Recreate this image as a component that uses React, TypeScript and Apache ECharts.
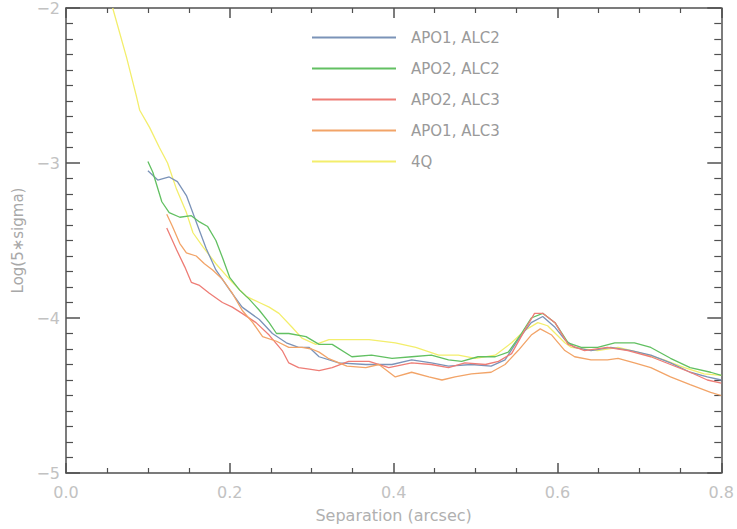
import React, { useEffect, useRef } from "react";
import * as echarts from "echarts";

const seriesNames = ["APO1, ALC2", "APO2, ALC2", "APO2, ALC3", "APO1, ALC3", "4Q"];
const seriesColors = ["#7b93b8", "#62c062", "#ee7d76", "#f2a468", "#f3ee6c"];

const xTicks = [0.0, 0.2, 0.4, 0.6, 0.8];
const yTicks = [-5, -4, -3, -2];

const apo1Alc2 = [
  [0.1, -3.05], [0.112, -3.11], [0.126, -3.09], [0.136, -3.12], [0.147, -3.21], [0.159, -3.38],
  [0.171, -3.55], [0.183, -3.69], [0.2, -3.82], [0.215, -3.93], [0.236, -4.01], [0.252, -4.1],
  [0.269, -4.16], [0.284, -4.19], [0.297, -4.19], [0.309, -4.25], [0.333, -4.29], [0.366, -4.3],
  [0.398, -4.3], [0.422, -4.27], [0.446, -4.29], [0.467, -4.31], [0.495, -4.3], [0.519, -4.31],
  [0.536, -4.27], [0.552, -4.14], [0.568, -4.03], [0.582, -3.99], [0.597, -4.06], [0.609, -4.14],
  [0.621, -4.19], [0.641, -4.21], [0.665, -4.19], [0.69, -4.21], [0.714, -4.24], [0.738, -4.29],
  [0.762, -4.35], [0.783, -4.38], [0.8, -4.4],
];

const apo2Alc2 = [
  [0.1, -2.99], [0.106, -3.06], [0.117, -3.25], [0.126, -3.32], [0.139, -3.35], [0.153, -3.34],
  [0.163, -3.38], [0.173, -3.41], [0.183, -3.5], [0.191, -3.61], [0.2, -3.74], [0.212, -3.82],
  [0.224, -3.88], [0.236, -3.95], [0.248, -4.03], [0.257, -4.1], [0.272, -4.1], [0.293, -4.12],
  [0.309, -4.17], [0.325, -4.17], [0.349, -4.25], [0.373, -4.24], [0.398, -4.26], [0.422, -4.25],
  [0.446, -4.24], [0.467, -4.27], [0.483, -4.28], [0.503, -4.25], [0.524, -4.25], [0.54, -4.22],
  [0.556, -4.1], [0.568, -4.0], [0.582, -3.97], [0.597, -4.03], [0.613, -4.16], [0.629, -4.19],
  [0.649, -4.19], [0.67, -4.16], [0.694, -4.16], [0.714, -4.19], [0.738, -4.26], [0.762, -4.32],
  [0.787, -4.35], [0.8, -4.37],
];

const apo2Alc3 = [
  [0.123, -3.42], [0.135, -3.56], [0.145, -3.67], [0.153, -3.77], [0.163, -3.79], [0.175, -3.84],
  [0.191, -3.9], [0.203, -3.93], [0.215, -3.97], [0.232, -4.03], [0.248, -4.11], [0.264, -4.21],
  [0.272, -4.29], [0.284, -4.32], [0.297, -4.33], [0.309, -4.34], [0.325, -4.32], [0.345, -4.28],
  [0.37, -4.28], [0.394, -4.32], [0.422, -4.29], [0.446, -4.3], [0.467, -4.32], [0.487, -4.29],
  [0.512, -4.3], [0.528, -4.28], [0.544, -4.23], [0.56, -4.08], [0.572, -3.97], [0.582, -3.97],
  [0.597, -4.03], [0.613, -4.17], [0.633, -4.21], [0.661, -4.19], [0.686, -4.21], [0.714, -4.25],
  [0.738, -4.3], [0.762, -4.35], [0.783, -4.4], [0.8, -4.42],
];

const apo1Alc3 = [
  [0.123, -3.33], [0.13, -3.41], [0.139, -3.52], [0.147, -3.58], [0.159, -3.6], [0.169, -3.65],
  [0.179, -3.69], [0.191, -3.75], [0.203, -3.84], [0.215, -3.95], [0.228, -4.03], [0.24, -4.12],
  [0.257, -4.15], [0.272, -4.19], [0.288, -4.19], [0.3, -4.2], [0.309, -4.22], [0.32, -4.26],
  [0.343, -4.31], [0.366, -4.32], [0.382, -4.3], [0.402, -4.38], [0.422, -4.35], [0.443, -4.38],
  [0.459, -4.4], [0.475, -4.38], [0.495, -4.36], [0.519, -4.35], [0.536, -4.3], [0.552, -4.21],
  [0.568, -4.11], [0.579, -4.07], [0.593, -4.11], [0.609, -4.21], [0.621, -4.25], [0.641, -4.27],
  [0.661, -4.27], [0.674, -4.26], [0.694, -4.29], [0.714, -4.32], [0.738, -4.38], [0.762, -4.43],
  [0.787, -4.48], [0.8, -4.5],
];

const fourQ = [
  [0.057, -2.0], [0.074, -2.32], [0.086, -2.57], [0.09, -2.66], [0.102, -2.77], [0.114, -2.9],
  [0.124, -3.0], [0.135, -3.17], [0.147, -3.32], [0.155, -3.45], [0.167, -3.54], [0.183, -3.65],
  [0.203, -3.77], [0.22, -3.86], [0.236, -3.9], [0.248, -3.93], [0.26, -3.97], [0.276, -4.06],
  [0.288, -4.13], [0.305, -4.17], [0.321, -4.14], [0.357, -4.14], [0.37, -4.14], [0.402, -4.16],
  [0.427, -4.19], [0.455, -4.24], [0.479, -4.24], [0.5, -4.26], [0.524, -4.24], [0.544, -4.16],
  [0.56, -4.08], [0.576, -4.03], [0.588, -4.05], [0.609, -4.16], [0.617, -4.19], [0.649, -4.21],
  [0.674, -4.19], [0.698, -4.22], [0.73, -4.27], [0.755, -4.32], [0.779, -4.36], [0.8, -4.37],
];

const seriesData = [apo1Alc2, apo2Alc2, apo2Alc3, apo1Alc3, fourQ];

const FONT = "DejaVu Sans";
const AXIS_COLOR = "#505050";
const LABEL_COLOR = "#c2c2c2";

function makeXAxis(position: "bottom" | "top", showLabels: boolean) {
  return {
    type: "value",
    position,
    min: xTicks[0],
    max: xTicks[xTicks.length - 1],
    interval: 0.2,
    name: showLabels ? "Separation (arcsec)" : "",
    nameLocation: "middle",
    nameGap: 34,
    nameTextStyle: { color: "#b0b0b0", fontSize: 16, fontFamily: FONT },
    axisLine: { show: true, onZero: false, lineStyle: { color: AXIS_COLOR, width: 1.5 } },
    axisTick: { show: true, inside: true, length: 10, lineStyle: { color: AXIS_COLOR, width: 1.5 } },
    minorTick: { show: true, splitNumber: 4, length: 5, lineStyle: { color: AXIS_COLOR, width: 1.2 } },
    splitLine: { show: false },
    minorSplitLine: { show: false },
    axisLabel: {
      show: showLabels,
      color: LABEL_COLOR,
      fontSize: 16,
      fontFamily: FONT,
      margin: 11,
      formatter: (v: number) => v.toFixed(1),
    },
  };
}

function makeYAxis(position: "left" | "right", showLabels: boolean) {
  return {
    type: "value",
    position,
    min: yTicks[0],
    max: yTicks[yTicks.length - 1],
    interval: 1,
    name: showLabels ? "Log(5\u2217sigma)" : "",
    nameLocation: "middle",
    nameGap: 38,
    nameRotate: 90,
    nameTextStyle: { color: "#a8a8a8", fontSize: 15, fontFamily: FONT },
    axisLine: { show: true, onZero: false, lineStyle: { color: AXIS_COLOR, width: 1.5 } },
    axisTick: { show: true, inside: true, length: 14, lineStyle: { color: AXIS_COLOR, width: 1.5 } },
    minorTick: { show: true, splitNumber: 10, length: 7, lineStyle: { color: AXIS_COLOR, width: 1.2 } },
    splitLine: { show: false },
    minorSplitLine: { show: false },
    axisLabel: {
      show: showLabels,
      color: LABEL_COLOR,
      fontSize: 16,
      fontFamily: FONT,
      margin: 6,
      formatter: (v: number) => String(v).replace("-", "\u2212"),
    },
  };
}

export default function App() {
  const ref = useRef<HTMLDivElement>(null);

  useEffect(() => {
    if (!ref.current) return;
    const chart = echarts.init(ref.current, undefined, { renderer: "svg" });
    chart.setOption({
      animation: false,
      backgroundColor: "#ffffff",
      grid: { left: 66, right: 13, top: 7, bottom: 56, containLabel: false },
      xAxis: [makeXAxis("bottom", true), makeXAxis("top", false)],
      yAxis: [makeYAxis("left", true), makeYAxis("right", false)],
      legend: {
        show: true,
        orient: "vertical",
        left: 312,
        top: 29,
        padding: 0,
        icon: "rect",
        itemWidth: 84,
        itemHeight: 2,
        itemGap: 14,
        data: seriesNames,
        selectedMode: false,
        textStyle: {
          color: "#9a9a9a",
          fontSize: 15,
          fontFamily: FONT,
          lineHeight: 17,
          padding: [0, 0, 0, 10],
        },
      },
      series: seriesNames.map((name, i) => ({
        name,
        type: "line",
        xAxisIndex: 0,
        yAxisIndex: 0,
        data: seriesData[i],
        showSymbol: false,
        symbol: "none",
        smooth: false,
        clip: true,
        color: seriesColors[i],
        lineStyle: { color: seriesColors[i], width: 1.3 },
        z: i === 4 ? 1 : 2 + i,
      })),
    });
    return () => chart.dispose();
  }, []);

  return (
    <div
      ref={ref}
      style={{ position: "absolute", left: 0, top: 0, width: 737, height: 529 }}
    />
  );
}
